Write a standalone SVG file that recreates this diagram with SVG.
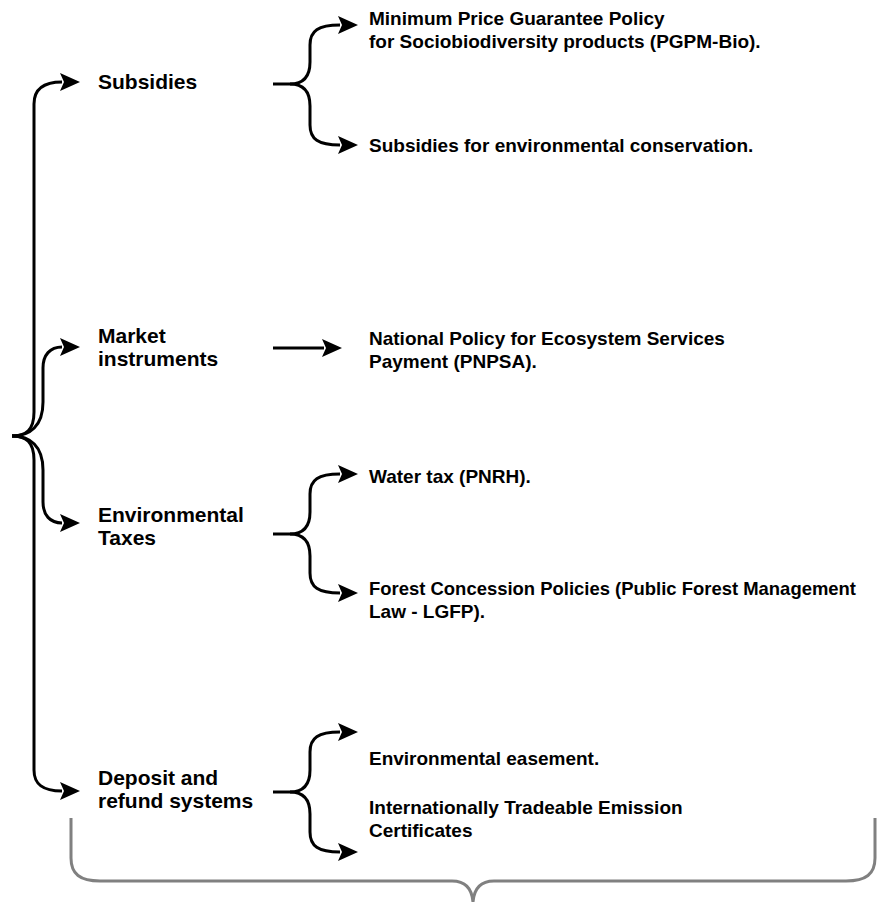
<svg xmlns="http://www.w3.org/2000/svg" width="879" height="902" viewBox="0 0 879 902">
  <style>
    .lbl { font-family: "Liberation Sans", Arial, sans-serif; font-weight: bold; fill: #000; }
    .main { font-size: 21px; }
    .item { font-size: 19px; }
    .edge { fill: none; stroke: #000; stroke-width: 3; stroke-linejoin: round; marker-end: url(#arrow); }
    .brace { fill: none; stroke: #000; stroke-width: 3; stroke-linejoin: round; }
    .span { fill: none; stroke: #808080; stroke-width: 3; stroke-linejoin: round; }
  </style>
  <defs>
    <marker id="arrow" markerUnits="userSpaceOnUse" viewBox="0 0 20 18" refX="2" refY="9" markerWidth="20" markerHeight="18" orient="auto">
      <path d="M0,0 L20,9 L0,18 L4,9 Z" fill="#000"/>
    </marker>
  </defs>
  <rect width="879" height="902" fill="#fff"/>

  <g id="connectors">
    <!-- main brace fanning out to the four instrument groups -->
    <path class="edge" d="M12,436 C26,436 34,430 34,412 L34,104 C34,90 42,82 62,82"/>
    <path class="edge" d="M12,436 C30,436 43,426 43,402 L43,368 C43,355 50,347 62,347"/>
    <path class="edge" d="M12,436 C30,436 43,446 43,470 L43,502 C43,515 50,523 62,523"/>
    <path class="edge" d="M12,436 C26,436 34,442 34,460 L34,770 C34,784 42,791 62,791"/>

    <!-- Subsidies -->
    <path class="brace" d="M273,84 L290,84"/>
    <path class="edge" d="M290,84 C304,84 310,76 310,62 L310,45 C310,31 318,25 340,25"/>
    <path class="edge" d="M290,84 C304,84 310,92 310,106 L310,125 C310,139 318,145 340,145"/>

    <!-- Market instruments -->
    <path class="edge" d="M273,348 L324,348"/>

    <!-- Environmental Taxes -->
    <path class="brace" d="M273,534 L290,534"/>
    <path class="edge" d="M290,534 C304,534 310,526 310,512 L310,494 C310,480 318,474 340,474"/>
    <path class="edge" d="M290,534 C304,534 310,542 310,556 L310,573 C310,587 318,593 340,593"/>

    <!-- Deposit and refund systems -->
    <path class="brace" d="M273,792 L290,792"/>
    <path class="edge" d="M290,792 C304,792 310,784 310,770 L310,752 C310,738 318,732 340,732"/>
    <path class="edge" d="M290,792 C304,792 310,800 310,814 L310,832 C310,846 318,852 340,852"/>

    <!-- grey brace under the whole scheme -->
    <path class="span" d="M71,818 L71,858 C71,874 80,881 100,881 L452,881 C466,881 472,889 473,902 C474,889 480,881 494,881 L846,881 C866,881 875,874 875,858 L875,818"/>
  </g>

  <g id="node-subsidies">
    <text class="lbl main" x="98" y="89">Subsidies</text>
  </g>
  <g id="node-market">
    <text class="lbl main" x="98" y="343">Market</text>
    <text class="lbl main" x="98" y="366">instruments</text>
  </g>
  <g id="node-env-taxes">
    <text class="lbl main" x="98" y="522">Environmental</text>
    <text class="lbl main" x="98" y="545">Taxes</text>
  </g>
  <g id="node-deposit">
    <text class="lbl main" x="98" y="785">Deposit and</text>
    <text class="lbl main" x="98" y="808">refund systems</text>
  </g>

  <g id="node-pgpm">
    <text class="lbl item" x="369" y="25">Minimum Price Guarantee Policy</text>
    <text class="lbl item" x="369" y="48">for Sociobiodiversity products (PGPM-Bio).</text>
  </g>
  <g id="node-conservation">
    <text class="lbl item" x="369" y="152">Subsidies for environmental conservation.</text>
  </g>
  <g id="node-pnpsa">
    <text class="lbl item" x="369" y="345">National Policy for Ecosystem Services</text>
    <text class="lbl item" x="369" y="368">Payment (PNPSA).</text>
  </g>
  <g id="node-water-tax">
    <text class="lbl item" x="369" y="483">Water tax (PNRH).</text>
  </g>
  <g id="node-forest">
    <text class="lbl item" x="369" y="595" textLength="487" lengthAdjust="spacingAndGlyphs">Forest Concession Policies (Public Forest Management</text>
    <text class="lbl item" x="369" y="618">Law - LGFP).</text>
  </g>
  <g id="node-easement">
    <text class="lbl item" x="369" y="765">Environmental easement.</text>
  </g>
  <g id="node-certificates">
    <text class="lbl item" x="369" y="814">Internationally Tradeable Emission</text>
    <text class="lbl item" x="369" y="837">Certificates</text>
  </g>
</svg>
